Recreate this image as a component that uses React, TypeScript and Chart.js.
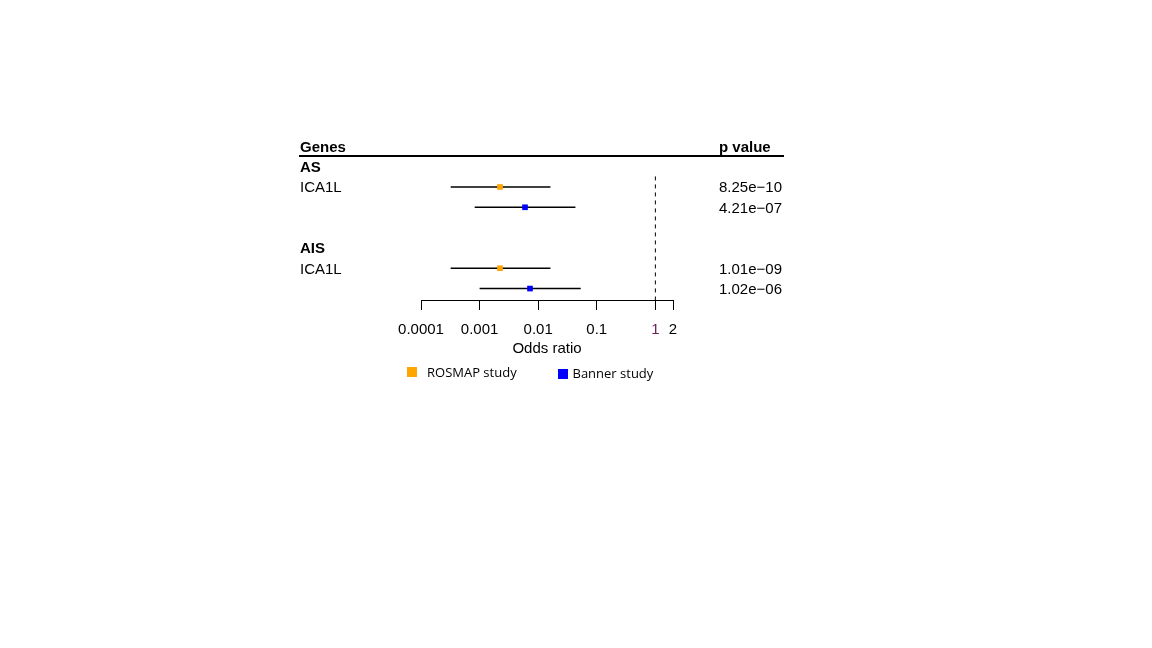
import React, { useEffect, useRef } from "react";
import { Chart, registerables } from "chart.js";
Chart.register(...registerables);

// ---- data ----
const groups = ["AS", "AIS"];
const genes = ["ICA1L", "ICA1L"];
const studies = ["ROSMAP study", "Banner study"];
const studyColors = ["#FFA500", "#0000FF"];
const rosmapOR = [0.00223, 0.00223];
const rosmapLower = [0.000321, 0.000321];
const rosmapUpper = [0.0162, 0.0162];
const bannerOR = [0.00596, 0.00725];
const bannerLower = [0.000825, 0.001];
const bannerUpper = [0.0432, 0.0532];
const pValues = [
  ["8.25e\u221210", "4.21e\u221207"],
  ["1.01e\u221209", "1.02e\u221206"],
];
const xTicks = [0.0001, 0.001, 0.01, 0.1, 1, 2];
const referenceOR = 1;

const studyOR = [rosmapOR, bannerOR];
const studyLower = [rosmapLower, bannerLower];
const studyUpper = [rosmapUpper, bannerUpper];

const Y_MIN = -1;
const Y_MAX = 7.563;
const REF_TOP = 1.48;
const FONT = '"Liberation Sans", Arial, sans-serif';
const LEGEND_FONT = '"Open Sans", "Noto Sans", sans-serif';

const rowOf = (g: number, s: number) => 2 + s + 4 * g;

const textPlugin = {
  id: "forestText",
  afterDraw(chart: any) {
    const ctx = chart.ctx as CanvasRenderingContext2D;
    const y = chart.scales.y;
    const area = chart.chartArea;
    const capOff = 5.4;
    ctx.save();
    ctx.fillStyle = "#000";
    ctx.textBaseline = "alphabetic";
    ctx.textAlign = "left";
    const y0 = y.getPixelForValue(0);
    ctx.font = `bold 15px ${FONT}`;
    ctx.fillText("Genes", 300, y0 + capOff);
    ctx.fillText("p value", 719, y0 + capOff);
    ctx.fillRect(299, Math.round(y0 + 8.7), 485, 2);
    groups.forEach((gName, gi) => {
      const base = 1 + 4 * gi;
      ctx.font = `bold 15px ${FONT}`;
      ctx.fillText(gName, 300, y.getPixelForValue(base) + capOff);
      ctx.font = `15px ${FONT}`;
      ctx.fillText(genes[gi], 300, y.getPixelForValue(base + 1) + capOff);
      pValues[gi].forEach((p, si) => {
        ctx.fillText(p, 719, y.getPixelForValue(rowOf(gi, si)) + capOff);
      });
    });
    // legend
    const lb = area.bottom;
    const legendPos = [
      { sx: 407, sy: lb + 67, tx: 427, ty: lb + 76.7 },
      { sx: 558, sy: lb + 69, tx: 572.5, ty: lb + 77.7 },
    ];
    ctx.font = `13px ${LEGEND_FONT}`;
    studies.forEach((name, si) => {
      const p = legendPos[si];
      ctx.fillStyle = studyColors[si];
      ctx.fillRect(p.sx, p.sy, 10, 10);
      ctx.fillStyle = "#000";
      ctx.fillText(name, p.tx, p.ty);
    });
    ctx.restore();
  },
};

export default function App() {
  const ref = useRef<HTMLCanvasElement | null>(null);
  useEffect(() => {
    if (!ref.current) return;
    const datasets: any[] = [];
    studies.forEach((name, si) => {
      datasets.push({
        label: name,
        data: groups.map((_, gi) => ({ x: studyOR[si][gi], y: rowOf(gi, si) })),
        pointStyle: "rect",
        pointRadius: 4,
        pointHoverRadius: 4,
        backgroundColor: studyColors[si],
        borderWidth: 0,
        order: 0,
      });
    });
    studies.forEach((name, si) => {
      groups.forEach((_, gi) => {
        datasets.push({
          label: `${name} CI ${gi}`,
          data: [
            { x: studyLower[si][gi], y: rowOf(gi, si) },
            { x: studyUpper[si][gi], y: rowOf(gi, si) },
          ],
          showLine: true,
          pointRadius: 0,
          borderColor: "#000",
          borderWidth: 1.4,
          order: 1,
        });
      });
    });
    datasets.push({
      label: "reference",
      data: [
        { x: referenceOR, y: REF_TOP },
        { x: referenceOR, y: Y_MAX },
      ],
      showLine: true,
      pointRadius: 0,
      borderColor: "#000",
      borderWidth: 1,
      borderDash: [4, 4],
      order: 2,
    });

    const chart = new Chart(ref.current, {
      type: "scatter",
      data: { datasets },
      plugins: [textPlugin],
      options: {
        animation: false,
        responsive: false,
        devicePixelRatio: 1,
        layout: { padding: { left: 421, right: 479, top: 126, bottom: 290 } },
        plugins: { legend: { display: false }, tooltip: { enabled: false } },
        scales: {
          x: {
            type: "logarithmic",
            min: xTicks[0],
            max: xTicks[xTicks.length - 1],
            afterBuildTicks: (s: any) => {
              s.ticks = xTicks.map((v) => ({ value: v }));
            },
            afterFit: (s: any) => {
              s.height = 58;
            },
            ticks: {
              autoSkip: false,
              maxRotation: 0,
              padding: 11,
              font: { family: FONT, size: 15 },
              color: (c: any) => (c.tick && c.tick.value === 1 ? "#6e2256" : "#000"),
              callback: (v: any) => String(v),
            },
            grid: {
              display: true,
              drawOnChartArea: false,
              drawTicks: true,
              tickLength: 10,
              color: "#000",
              lineWidth: 1,
            },
            border: { display: true, color: "#000", width: 1 },
            title: {
              display: true,
              text: "Odds ratio",
              color: "#000",
              font: { family: FONT, size: 15 },
              padding: { top: 1, bottom: 0 },
            },
          },
          y: {
            type: "linear",
            min: Y_MIN,
            max: Y_MAX,
            reverse: true,
            display: false,
          },
        },
      } as any,
    });
    return () => chart.destroy();
  }, []);
  return (
    <div style={{ position: "absolute", left: 0, top: 0, width: 1152, height: 648, background: "#fff" }}>
      <canvas ref={ref} width={1152} height={648} style={{ display: "block", width: 1152, height: 648 }} />
    </div>
  );
}
